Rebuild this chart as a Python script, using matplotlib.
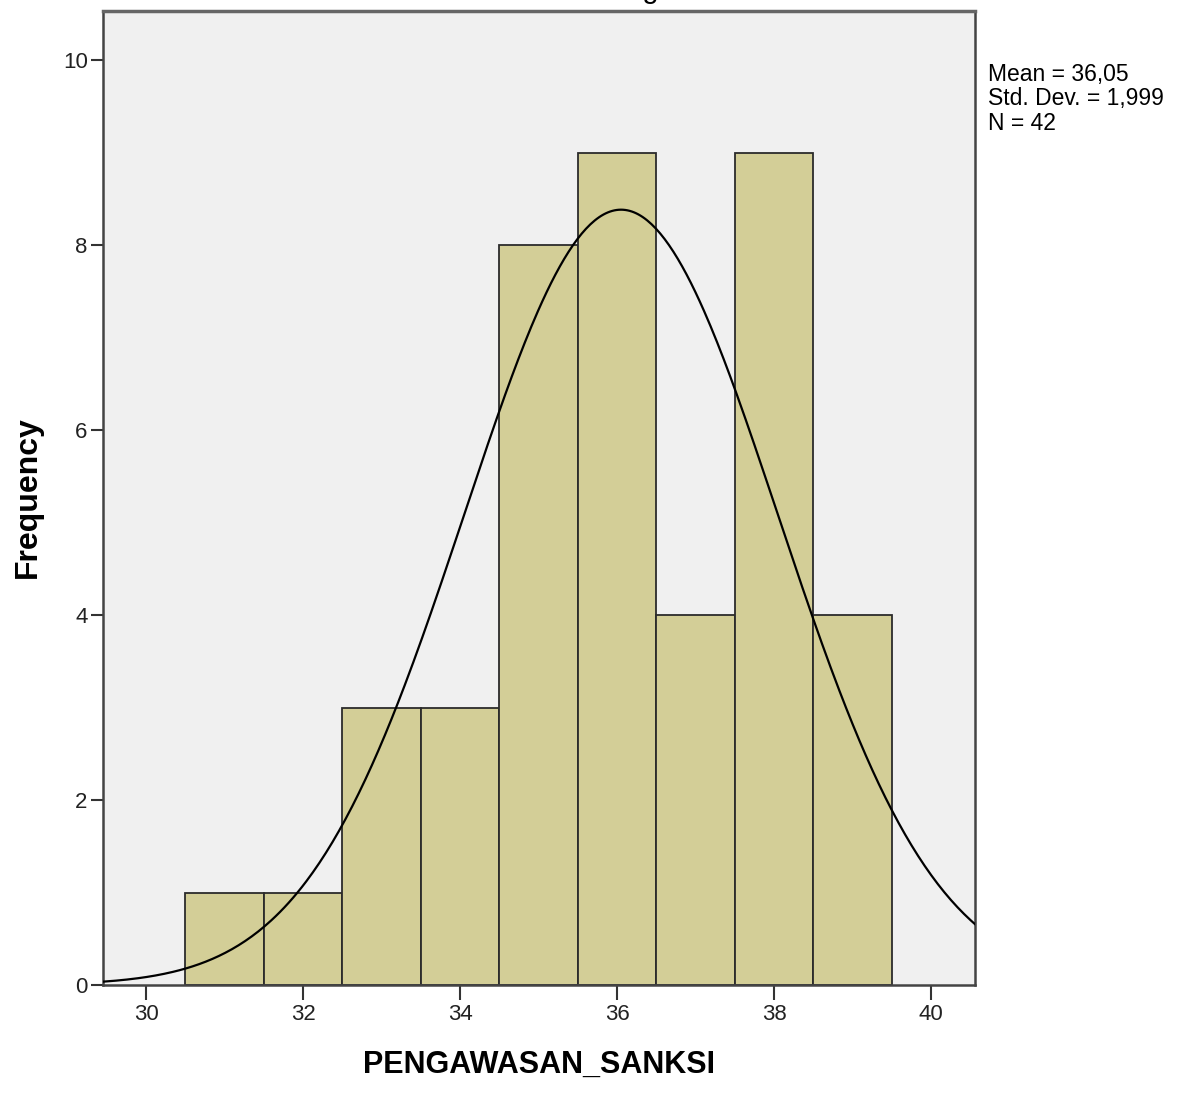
import numpy as np
import matplotlib.pyplot as plt

plt.rcParams['font.family'] = ['Liberation Sans', 'DejaVu Sans']

# data
bin_centers = [31, 32, 33, 34, 35, 36, 37, 38, 39]
counts = [1, 1, 3, 3, 8, 9, 4, 9, 4]
mean_val = 36.05
std_val = 1.999
n_val = 42
bin_width = 1.0

fig = plt.figure(figsize=(11.77, 10.95), dpi=100)
ax = fig.add_axes([103 / 1177, 1 - 985 / 1095, 872 / 1177, 974 / 1095])
ax.set_facecolor('#F0F0F0')

ax.bar(bin_centers, counts, width=bin_width, color='#D3CE97',
       edgecolor='#2B2B2B', linewidth=1.3, zorder=2)

# normal curve
xs = np.linspace(29.45, 40.56, 400)
ys = n_val * bin_width / (std_val * np.sqrt(2 * np.pi)) * np.exp(-0.5 * ((xs - mean_val) / std_val) ** 2)
ax.plot(xs, ys, color='black', linewidth=1.6, zorder=3)

ax.set_xlim(29.45, 40.56)
ax.set_ylim(0, 10.53)
ax.set_xticks([30, 32, 34, 36, 38, 40])
ax.set_yticks([0, 2, 4, 6, 8, 10])
ax.tick_params(axis='x', direction='out', length=11, width=1.5, labelsize=16, pad=3,
               color='#333333', labelcolor='#222222')
ax.tick_params(axis='y', direction='out', length=9, width=1.5, labelsize=16, pad=2,
               color='#333333', labelcolor='#222222')
for side in ax.spines.values():
    side.set_color('#444444')
    side.set_linewidth(1.8)
ax.spines['top'].set_color('#666666')
ax.spines['top'].set_linewidth(2.5)

ax.set_xlabel('PENGAWASAN_SANKSI', fontsize=22, fontweight='bold')
ax.xaxis.set_label_coords(0.5, (985 - 1065) / 974)
ax.xaxis.label.set_va('center')
ax.set_ylabel('Frequency', fontsize=23, fontweight='bold')
ax.yaxis.set_label_coords((28 - 103) / 872, (985 - 497) / 974)
ax.yaxis.label.set_va('center')

fig.text(988 / 1177, 1 - 63 / 1095,
         'Mean = 36,05\nStd. Dev. = 1,999\nN = 42',
         fontsize=16.5, va='top', ha='left', linespacing=1.08)

# title mostly cut off at the top edge, as in the original export
fig.text(643 / 1177, 1 + 2 / 1095, 'Histogram', fontsize=21, ha='center', va='baseline')

fig.savefig('out.png', dpi=100)
